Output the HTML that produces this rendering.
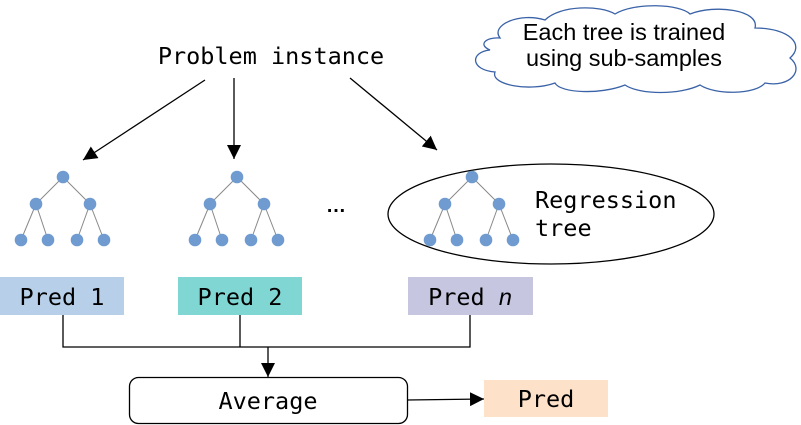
<!DOCTYPE html>
<html><head><meta charset="utf-8"><style>
html,body{margin:0;padding:0;background:#fff;width:801px;height:425px;overflow:hidden}
svg{display:block}
.m{font-family:"DejaVu Sans Mono","Liberation Mono",monospace;font-size:23.5px;fill:#000}
</style></head><body>
<svg width="801" height="425" viewBox="0 0 801 425">
<defs>
<marker id="a2" viewBox="0 0 14 14" markerWidth="14" markerHeight="14" refX="14" refY="7" orient="auto" markerUnits="userSpaceOnUse"><path d="M0,0 L14,7 L0,14 z" fill="#000"/></marker></defs>

<path d="M500,38 C490,25 520,12 545,20 C560,5 600,5 615,14 C635,2 680,4 690,14 C715,4 760,10 755,28 C790,28 805,45 790,58 C805,70 790,88 765,83 C755,95 715,95 700,85 C680,95 640,95 625,85 C600,95 560,93 555,83 C530,92 490,85 495,72 C470,70 470,52 490,50 C478,45 485,37 500,38 Z" fill="#fff" stroke="#3a62a7" stroke-width="1.3"/>
<text x="624" y="40" text-anchor="middle" font-family="Liberation Sans,sans-serif" font-size="23.5">Each tree is trained</text>
<text x="624" y="66" text-anchor="middle" font-family="Liberation Sans,sans-serif" font-size="23.5">using sub-samples</text>

<text class="m" x="271" y="64" text-anchor="middle">Problem instance</text>
<g stroke="#000" stroke-width="1.3" fill="none">
<line x1="205" y1="80" x2="83" y2="160" marker-end="url(#a2)"/>
<line x1="234" y1="78" x2="234" y2="159" marker-end="url(#a2)"/>
<line x1="350" y1="78" x2="437" y2="150" marker-end="url(#a2)"/>
</g>

<ellipse cx="551" cy="214" rx="163" ry="50" fill="none" stroke="#000" stroke-width="1.3"/>
<text class="m" x="535" y="208">Regression</text>
<text class="m" x="535" y="236">tree</text>
<text x="336" y="212" text-anchor="middle" font-family="Liberation Sans,sans-serif" font-size="20" font-weight="bold">…</text>

<g id="trees"></g>

<rect x="0" y="277" width="124" height="38" fill="#b7cfe9"/>
<text class="m" x="62" y="305" text-anchor="middle">Pred 1</text>
<rect x="178" y="277" width="124" height="38" fill="#80d6d3"/>
<text class="m" x="240" y="305" text-anchor="middle">Pred 2</text>
<rect x="408" y="277" width="125" height="38" fill="#c6c6e1"/>
<text class="m" x="470" y="305" text-anchor="middle">Pred <tspan font-style="italic" font-family="Liberation Sans,sans-serif">n</tspan></text>

<g stroke="#000" stroke-width="1.3" fill="none">
<polyline points="63,315 63,347 470,347 470,315"/>
<line x1="240" y1="315" x2="240" y2="347"/>
<line x1="268" y1="347" x2="268" y2="377" marker-end="url(#a2)"/>
<line x1="407" y1="400" x2="484" y2="399" marker-end="url(#a2)"/>
</g>
<rect x="129.5" y="377.5" width="278" height="46" rx="9" fill="#fff" stroke="#000" stroke-width="1.3"/>
<text class="m" x="268" y="409" text-anchor="middle">Average</text>
<rect x="484" y="380" width="124" height="37" fill="#fde1c8"/>
<text class="m" x="546" y="407" text-anchor="middle">Pred</text>
</svg>
<script>
const treeOffsets=[0,174,409];
const nodes=[[63,177],[36,204],[90,204],[21,240],[48,240],[77,240],[104,240]];
const edges=[[0,1],[0,2],[1,3],[1,4],[2,5],[2,6]];
const g=document.getElementById('trees');
const NS='http://www.w3.org/2000/svg';
treeOffsets.forEach((dx,t)=>{
  const tg=document.createElementNS(NS,'g');
  
  
  edges.forEach(e=>{
    const l=document.createElementNS(NS,'line');
    l.setAttribute('x1',nodes[e[0]][0]+dx);l.setAttribute('y1',nodes[e[0]][1]);
    l.setAttribute('x2',nodes[e[1]][0]+dx);l.setAttribute('y2',nodes[e[1]][1]);
    l.setAttribute('stroke','#888');l.setAttribute('stroke-width','1');
    
    
    tg.appendChild(l);
  });
  nodes.forEach(n=>{
    const c=document.createElementNS(NS,'circle');
    c.setAttribute('cx',n[0]+dx);c.setAttribute('cy',n[1]);c.setAttribute('r','6.3');
    c.setAttribute('fill','#6f9bd0');
    
    
    tg.appendChild(c);
  });
  g.appendChild(tg);
});
</script>
</body></html>
